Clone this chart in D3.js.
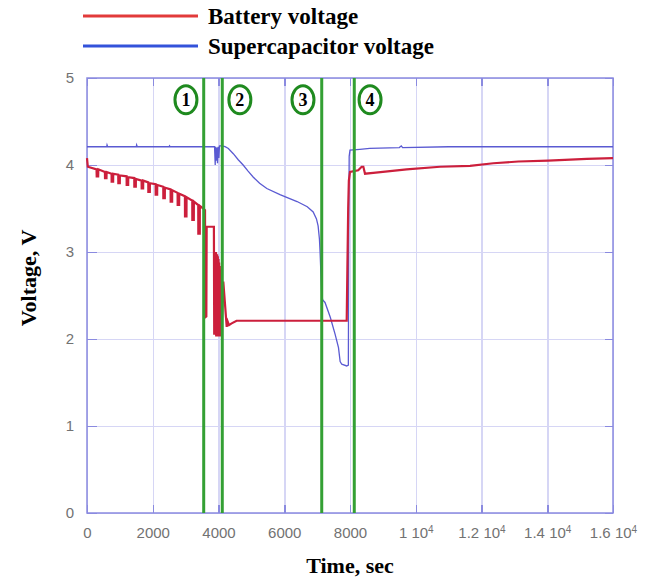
<!DOCTYPE html>
<html>
<head>
<meta charset="utf-8">
<script src="https://cdn.jsdelivr.net/npm/d3@7"></script>
<style>
  body { margin: 0; background: #fff; }
  .tick line { shape-rendering: crispEdges; }
</style>
</head>
<body>
<div class="graph"></div>
<script>
// ---- data ----
var xTicks = [0, 2000, 4000, 6000, 8000, 10000, 12000, 14000, 16000];
var xTickMain = ['0', '2000', '4000', '6000', '8000', '1 10', '1.2 10', '1.4 10', '1.6 10'];
var xTickSup = ['', '', '', '', '', '4', '4', '4', '4'];
var yTicks = [0, 1, 2, 3, 4, 5];

// stage markers (green lines) and their numbered badges
var stageT = [3550, 4115, 7140, 8130];
var badgeT = [3010, 4650, 6570, 8610];
var badgeLabel = ['1', '2', '3', '4'];
var badgeV = 4.75;

// battery voltage [time s, volts]
var battery = [
  [0, 4.08], [25, 3.98], [290, 3.95], [295, 3.87], [340, 3.87], [345, 3.95],
  [545, 3.92], [548, 3.85], [593, 3.85], [596, 3.92],
  [748, 3.90], [750, 3.81], [795, 3.81], [797, 3.90],
  [950, 3.89], [953, 3.79], [998, 3.79], [1000, 3.88],
  [1205, 3.87], [1207, 3.77], [1252, 3.77], [1255, 3.86],
  [1438, 3.85], [1440, 3.75], [1485, 3.75], [1487, 3.84],
  [1660, 3.82], [1663, 3.73], [1708, 3.73], [1710, 3.82],
  [1864, 3.80], [1866, 3.69], [1911, 3.69], [1913, 3.79],
  [2087, 3.78], [2089, 3.66], [2134, 3.66], [2136, 3.77],
  [2320, 3.75], [2322, 3.62], [2367, 3.62], [2369, 3.74],
  [2543, 3.72], [2545, 3.58], [2590, 3.58], [2592, 3.71],
  [2756, 3.68], [2758, 3.54], [2803, 3.54], [2805, 3.67],
  [2979, 3.64], [2981, 3.41], [3026, 3.41], [3028, 3.63],
  [3202, 3.59], [3204, 3.37], [3249, 3.37], [3251, 3.58],
  [3384, 3.54], [3386, 3.21], [3431, 3.21], [3433, 3.53],
  [3540, 3.50], [3590, 3.48], [3595, 2.25], [3630, 2.26], [3640, 3.29],
  [3860, 3.29], [3870, 2.05], [3890, 2.10],
  [3900, 3.00], [3910, 2.05], [3920, 3.00], [3930, 2.03], [3940, 2.98],
  [3950, 2.04], [3960, 2.97], [3970, 2.03], [3980, 2.95], [3990, 2.04],
  [4000, 2.92], [4010, 2.03], [4020, 2.88], [4030, 2.04], [4040, 2.84],
  [4050, 2.03], [4060, 2.80], [4070, 2.05], [4080, 2.75], [4090, 2.06],
  [4146, 2.66], [4250, 2.14], [4280, 2.20], [4320, 2.16], [4400, 2.18],
  [4550, 2.21], [7900, 2.21], [7920, 2.80], [7945, 3.50], [7965, 3.82],
  [8000, 3.92], [8250, 3.94], [8355, 3.98], [8406, 3.98], [8457, 3.90],
  [8710, 3.91], [9724, 3.95], [10738, 3.98], [11650, 3.99], [12360, 4.02],
  [13120, 4.04], [14030, 4.05], [15200, 4.07], [16000, 4.08]
];

// supercapacitor voltage [time s, volts]
var supercap = [
  [0, 4.21], [600, 4.21], [610, 4.23], [630, 4.21], [1500, 4.21], [1510, 4.23],
  [1530, 4.21], [2500, 4.21], [2510, 4.22], [2530, 4.21], [3880, 4.21],
  [3900, 4.00], [3910, 4.21], [3930, 4.05], [3950, 4.20], [3970, 4.02],
  [3990, 4.21], [4010, 4.08], [4030, 4.22], [4100, 4.22], [4200, 4.21],
  [4300, 4.19], [4450, 4.13], [4600, 4.06], [4750, 4.00], [4900, 3.93],
  [5060, 3.86], [5250, 3.79], [5470, 3.73], [5870, 3.66], [6390, 3.58],
  [6700, 3.52], [6880, 3.46], [6980, 3.38], [7030, 3.30], [7070, 3.15],
  [7090, 3.00], [7120, 2.70], [7140, 2.50], [7170, 2.45], [7240, 2.42],
  [7400, 2.25], [7550, 2.05], [7650, 1.90], [7700, 1.74], [7750, 1.71],
  [7900, 1.69], [7950, 1.70], [7960, 3.00], [7975, 4.10], [8000, 4.17],
  [8300, 4.18], [8600, 4.19], [9500, 4.20], [9560, 4.22], [9600, 4.20],
  [11000, 4.21], [13000, 4.21], [16000, 4.21]
];

var legendLabels = ['Battery voltage', 'Supercapacitor voltage'];

// ---- layout ----
var w = 652, h = 579;
var m = {top: 78, right: 39, bottom: 66, left: 87};
var pw = w - m.left - m.right, ph = h - m.top - m.bottom;

var frameColor = '#8a8ae0', gridColor = '#d6d6f5';
var batColor = '#cc1f3c', capColor = '#5a5ad2', stageColor = '#34a034';
var serif = '"Liberation Serif", "Times New Roman", serif';
var sans = '"Liberation Sans", Arial, sans-serif';

var svg = d3.select('div.graph').append('svg')
  .attr('width', w).attr('height', h);

var x = d3.scaleLinear().domain([0, 16000]).range([0, pw]);
var y = d3.scaleLinear().domain([0, 5]).range([ph, 0]);

var plt = svg.append('g').attr('transform', 'translate(' + [m.left, m.top] + ')');

// grid
plt.append('g')
  .attr('transform', 'translate(0,' + ph + ')')
  .call(d3.axisBottom(x).tickValues(xTicks).tickSize(-ph).tickFormat(''))
  .call(function(g){
    g.select('.domain').remove();
    g.selectAll('line').attr('stroke', gridColor).attr('stroke-width', 1.5);
  });
plt.append('g')
  .call(d3.axisLeft(y).tickValues(yTicks).tickSize(-pw).tickFormat(''))
  .call(function(g){
    g.select('.domain').remove();
    g.selectAll('line').attr('stroke', gridColor).attr('stroke-width', 1.5);
  });

// inward ticks on all four sides
function ticks(g){
  g.select('.domain').remove();
  g.selectAll('line').attr('stroke', frameColor).attr('stroke-width', 1.5);
}
plt.append('g').attr('transform', 'translate(0,' + ph + ')')
  .call(d3.axisBottom(x).tickValues(xTicks).tickSize(-8).tickFormat('')).call(ticks);
plt.append('g')
  .call(d3.axisTop(x).tickValues(xTicks).tickSize(-8).tickFormat('')).call(ticks);
plt.append('g')
  .call(d3.axisLeft(y).tickValues(yTicks).tickSize(-10).tickFormat('')).call(ticks);
plt.append('g').attr('transform', 'translate(' + pw + ',0)')
  .call(d3.axisRight(y).tickValues(yTicks).tickSize(-8).tickFormat('')).call(ticks);

// tick labels
var xLab = plt.append('g').attr('transform', 'translate(0,' + ph + ')')
  .call(d3.axisBottom(x).tickValues(xTicks).tickSize(0).tickPadding(14)
    .tickFormat(function(d, i){ return xTickMain[i]; }));
xLab.select('.domain').remove();
xLab.selectAll('.tick text')
  .attr('font-family', sans).attr('font-size', 15).attr('fill', '#727272')
  .each(function(d, i){
    if (xTickSup[i]) {
      d3.select(this).append('tspan').attr('dy', '-0.5em')
        .attr('font-size', 10).text(xTickSup[i]);
    }
  });

var yLab = plt.append('g')
  .call(d3.axisLeft(y).tickValues(yTicks).tickSize(0).tickPadding(13).tickFormat(d3.format('d')));
yLab.select('.domain').remove();
yLab.selectAll('.tick text')
  .attr('font-family', sans).attr('font-size', 15).attr('fill', '#727272');

// frame
plt.append('rect').attr('width', pw).attr('height', ph)
  .attr('fill', 'none').attr('stroke', frameColor).attr('stroke-width', 1.5);

// curves
var line = d3.line().x(function(d){ return x(d[0]); }).y(function(d){ return y(d[1]); });

plt.append('path').datum(supercap)
  .attr('d', line).attr('fill', 'none')
  .attr('stroke', capColor).attr('stroke-width', 1.3);

plt.append('path').datum(battery)
  .attr('d', line).attr('fill', 'none')
  .attr('stroke', batColor).attr('stroke-width', 2.2).attr('stroke-linejoin', 'miter');

// stage lines
plt.selectAll('.stage')
  .data(stageT)
  .enter().append('line')
  .attr('class', 'stage')
  .attr('x1', function(d){ return x(d); }).attr('x2', function(d){ return x(d); })
  .attr('y1', 0).attr('y2', ph)
  .attr('stroke', stageColor).attr('stroke-width', 3);

// numbered badges
var badge = plt.selectAll('.badge')
  .data(badgeT)
  .enter().append('g')
  .attr('class', 'badge')
  .attr('transform', function(d){ return 'translate(' + [x(d), y(badgeV)] + ')'; });
badge.append('ellipse')
  .attr('rx', 11).attr('ry', 14)
  .attr('fill', '#fff').attr('stroke', '#1f8a1f').attr('stroke-width', 3);
badge.append('text')
  .attr('text-anchor', 'middle').attr('dy', 6)
  .attr('font-family', serif).attr('font-weight', 'bold').attr('font-size', 18)
  .text(function(d, i){ return badgeLabel[i]; });

// axis titles
svg.append('text')
  .attr('x', m.left + pw / 2).attr('y', 573)
  .attr('text-anchor', 'middle')
  .attr('font-family', serif).attr('font-weight', 'bold').attr('font-size', 22)
  .text('Time, sec');
svg.append('text')
  .attr('transform', 'translate(36,' + 278 + ') rotate(-90)')
  .attr('text-anchor', 'middle')
  .attr('font-family', serif).attr('font-weight', 'bold').attr('font-size', 22)
  .text('Voltage, V');

// legend
var legColors = ['#e23a3a', '#3352da'];
var leg = svg.selectAll('.leg')
  .data(legendLabels)
  .enter().append('g')
  .attr('class', 'leg')
  .attr('transform', function(d, i){ return 'translate(83,' + (16 + i * 30) + ')'; });
leg.append('line')
  .attr('x1', 0).attr('x2', 115)
  .attr('stroke', function(d, i){ return legColors[i]; }).attr('stroke-width', 3);
leg.append('text')
  .attr('x', 125).attr('y', 8)
  .attr('font-family', serif).attr('font-weight', 'bold').attr('font-size', 23)
  .text(function(d){ return d; });
</script>
</body>
</html>
